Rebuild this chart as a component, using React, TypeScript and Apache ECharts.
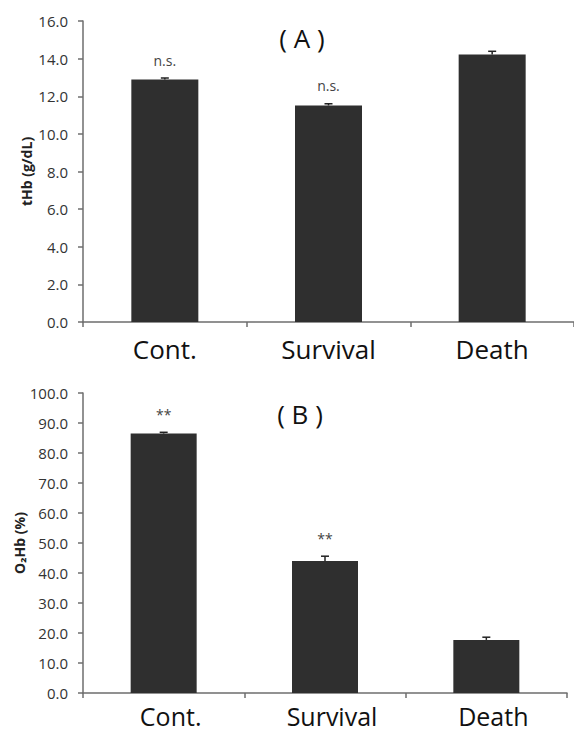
import React, { useEffect, useRef } from "react";
import * as echarts from "echarts";

const categories = ["Cont.", "Survival", "Death"];
const tHbMean = [12.89, 11.51, 14.22];
const tHbErr = [0.08, 0.09, 0.17];
const tHbSig = ["n.s.", "n.s.", ""];
const o2HbMean = [86.5, 44.0, 17.7];
const o2HbErr = [0.4, 1.6, 0.9];
const o2HbSig = ["**", "**", ""];

const FONT = '"Open Sans", "Noto Sans", sans-serif';
const BAR = "#2f2f2f";
const AXIS = "#6e6e6e";

function errSeries(mean: number[], err: number[], sig: string[], idx: number) {
  return {
    type: "custom",
    xAxisIndex: idx,
    yAxisIndex: idx,
    z: 5,
    data: mean.map((m, i) => [i, m, err[i]]),
    renderItem: (params: any, api: any) => {
      const i = api.value(0);
      const v = api.value(1);
      const e = api.value(2);
      const base = api.coord([i, v]);
      const top = api.coord([i, v + e]);
      const x = base[0];
      const children: any[] = [
        { type: "line", shape: { x1: x, y1: base[1], x2: x, y2: top[1] }, style: { stroke: "#222", lineWidth: 1.5 } },
        { type: "line", shape: { x1: x - 4, y1: top[1], x2: x + 4, y2: top[1] }, style: { stroke: "#222", lineWidth: 1.5 } },
      ];
      const s = sig[params.dataIndex];
      if (s) {
        children.push({
          type: "text",
          style: {
            text: s,
            x: x,
            y: top[1] - 11,
            align: "center",
            verticalAlign: "bottom",
            fontSize: 14,
            fontFamily: FONT,
            fill: "#444",
          },
        });
      }
      return { type: "group", children };
    },
  };
}

export default function App() {
  const ref = useRef<HTMLDivElement>(null);
  useEffect(() => {
    document.body.style.margin = "0";
    const chart = echarts.init(ref.current!, undefined, { renderer: "svg" });
    const xAxisBase = (idx: number) => ({
      type: "category",
      gridIndex: idx,
      data: categories,
      axisLine: { lineStyle: { color: AXIS, width: 1.5 } },
      axisTick: { show: true, length: 5, lineStyle: { color: AXIS, width: 1.5 } },
      axisLabel: {
        fontSize: idx === 1 ? 25 : 26,
        fontFamily: FONT,
        color: "#111",
        margin: idx === 1 ? 10 : 14,
        interval: 0,
        padding: idx === 1 ? [0, 0, 0, 14] : [0, 0, 0, 0],
      },
    });
    const yAxisBase = (idx: number, max: number, interval: number, name: string, gap: number) => ({
      type: "value",
      gridIndex: idx,
      min: 0,
      max,
      interval,
      name,
      nameLocation: "middle",
      nameGap: gap,
      nameMoveOverlap: false,
      nameTextStyle: { fontSize: 14, fontWeight: "bold", fontFamily: FONT, color: "#222" },
      splitLine: { show: false },
      axisLine: { show: true, lineStyle: { color: AXIS, width: 1.5 } },
      axisTick: { show: true, length: 5, lineStyle: { color: AXIS, width: 1.5 } },
      axisLabel: {
        fontSize: 15,
        fontFamily: FONT,
        color: "#333",
        margin: 15,
        formatter: (v: number) => v.toFixed(1),
      },
    });
    chart.setOption({
      animation: false,
      grid: [
        { left: 83, top: 21, width: 491, height: 301 },
        { left: 83, top: 393, width: 484, height: 300 },
      ],
      xAxis: [xAxisBase(0), xAxisBase(1)],
      yAxis: [
        yAxisBase(0, 16, 2, "tHb (g/dL)", 50),
        yAxisBase(1, 100, 10, "O₂Hb (%)", 57),
      ],
      graphic: [
        { type: "text", style: { text: "( A )", x: 302, y: 38, align: "center", verticalAlign: "middle", fontSize: 26, fontFamily: FONT, fill: "#111" } },
        { type: "text", style: { text: "( B )", x: 300, y: 414, align: "center", verticalAlign: "middle", fontSize: 26, fontFamily: FONT, fill: "#111" } },
      ],
      series: [
        { type: "bar", xAxisIndex: 0, yAxisIndex: 0, data: tHbMean, barWidth: 67, itemStyle: { color: BAR } },
        { type: "bar", xAxisIndex: 1, yAxisIndex: 1, data: o2HbMean, barWidth: 66, itemStyle: { color: BAR } },
        errSeries(tHbMean, tHbErr, tHbSig, 0),
        errSeries(o2HbMean, o2HbErr, o2HbSig, 1),
      ],
    });
    return () => chart.dispose();
  }, []);
  return <div ref={ref} style={{ width: 574, height: 731 }} />;
}
